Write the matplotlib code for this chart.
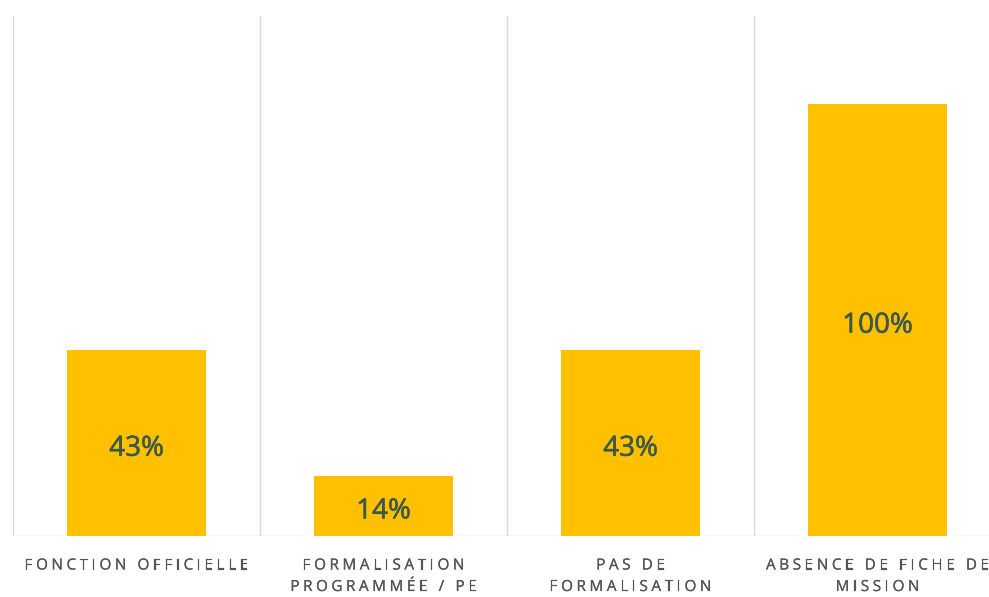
import matplotlib.pyplot as plt
import matplotlib.patheffects as pe

categories = [
    "FONCTION OFFICIELLE",
    "FORMALISATION\nPROGRAMMÉE / PE",
    "PAS DE\nFORMALISATION",
    "ABSENCE DE FICHE DE\nMISSION",
]
values = [43, 14, 43, 100]

bar_color = "#FFC000"
label_color = "#3B5849"
grid_color = "#D9D9D9"
text_gray = "#555555"

W, H = 989, 597
fig = plt.figure(figsize=(W / 100, H / 100), dpi=100)
ax = fig.add_axes([13 / W, 61 / H, 988 / W, 520 / H])

x = list(range(len(categories)))
bars = ax.bar(x, values, width=0.56, color=bar_color, zorder=2)

# regular weight thickened a little with a stroke of the same colour
value_fx = [pe.withStroke(linewidth=0.4, foreground=label_color)]
for rect, v in zip(bars, values):
    ax.text(rect.get_x() + rect.get_width() / 2, v / 2 - 1.3, f"{v}%",
            ha="center", va="center", fontsize=20, color=label_color,
            family="Open Sans", zorder=3, path_effects=value_fx)

# separators between categories
for b in [-0.5, 0.5, 1.5, 2.5, 3.5]:
    ax.axvline(b, color=grid_color, lw=1, zorder=1)
ax.axhline(0, color=grid_color, lw=1, zorder=1)

ax.set_xlim(-0.5, 3.5)
ax.set_ylim(0, 120.4)
ax.set_yticks([])
ax.set_xticks([])
for s in ax.spines.values():
    s.set_visible(False)

cat_fx = [pe.withStroke(linewidth=0.15, foreground=text_gray)]


def tracked_line(cx, cy, s, size, tracking, color):
    # draw a line of text with extra letter spacing, centred on (cx, cy) in pixels
    renderer = fig.canvas.get_renderer()
    parts = []
    for ch in s:
        t = fig.text(0, 0, ch, fontsize=size, color=color, family="Open Sans",
                     ha="left", va="center", path_effects=cat_fx)
        w = t.get_window_extent(renderer).width
        if ch == " ":
            w = size * 100 / 72 * 0.26
        parts.append((t, w))
    total = sum(w for _, w in parts) + tracking * (len(parts) - 1)
    px = cx - total / 2
    for t, w in parts:
        t.set_position((px / W, (H - cy) / H))
        px += w + tracking


fig.canvas.draw()
for i, cat in enumerate(categories):
    cx = ax.transData.transform((i, 0))[0]
    for j, line in enumerate(cat.split("\n")):
        tracked_line(cx, 566 + j * 21.5, line, 11, 3.6, text_gray)

fig.savefig("out.png", dpi=100)
